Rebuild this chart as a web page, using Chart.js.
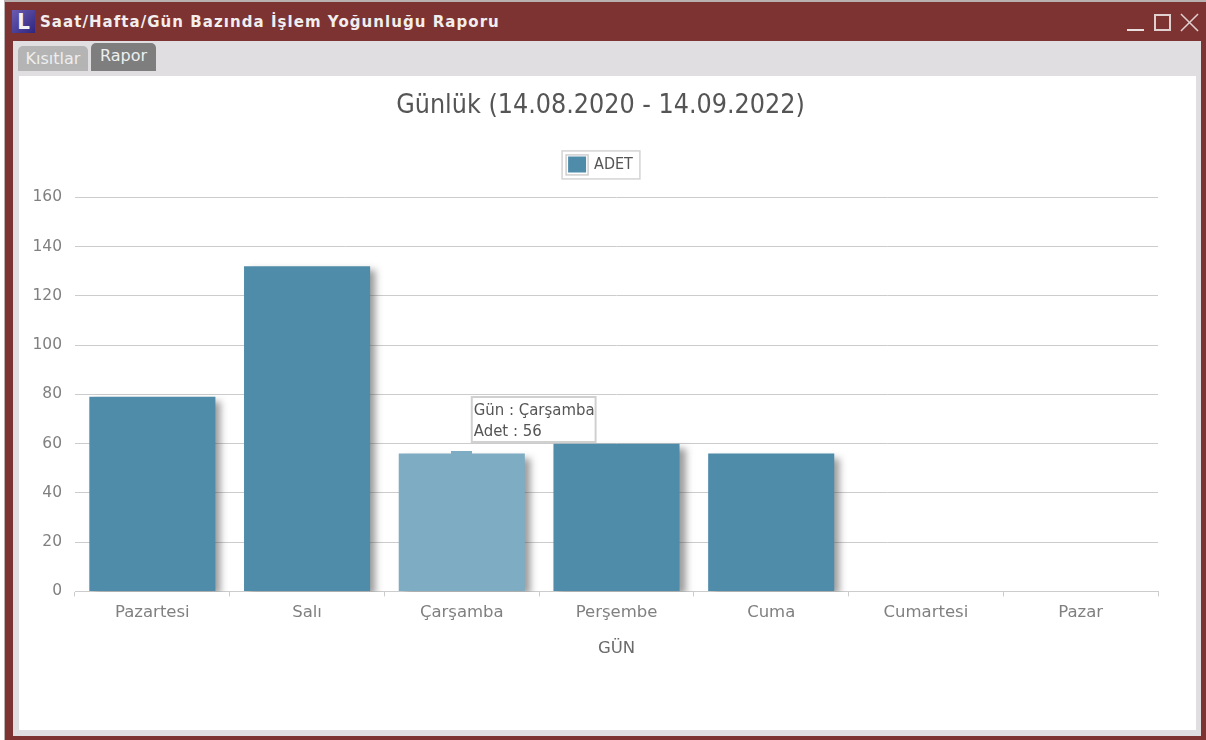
<!DOCTYPE html>
<html lang="tr"><head><meta charset="utf-8">
<script src="https://cdn.jsdelivr.net/npm/chart.js@4/dist/chart.umd.min.js"></script>
<style>
html,body{margin:0;padding:0;background:#fff;overflow:hidden}
#win{position:absolute;left:5px;top:2px;width:1201px;height:738px;background:#7c3331;box-shadow:0 -1px 0 1px #b9b0b0}
#logo{position:absolute;left:7px;top:8px;width:23px;height:23px;background:linear-gradient(135deg,#6a5cb0,#2f2580);color:#f2f2f2;font:bold 22px/24px "DejaVu Sans Condensed";text-align:center}
#cap{position:absolute;left:35px;top:11px;color:#f3eeee;font:bold 15px/18px "DejaVu Sans";letter-spacing:1.05px;white-space:nowrap}
#min{position:absolute;left:1122px;top:27px;width:17px;height:2px;background:#eadfdf}
#max{position:absolute;left:1149px;top:12px;width:13px;height:13px;border:2px solid #e0d0d0}
#x{position:absolute;left:1175px;top:11px;width:19px;height:19px}
#panel{position:absolute;left:8px;top:39px;width:1188px;height:695px;background:#e0dee1}
#k{position:absolute;left:5px;top:5px;width:70px;height:25px;background:#b4b4b4;color:#eee;font:16px/26px "DejaVu Sans";text-align:center;border-radius:5px 5px 0 0}
#r{position:absolute;left:78px;top:2px;width:65px;height:28px;background:#7e7e7e;color:#eee;font:16px/25px "DejaVu Sans";text-align:center;border-radius:5px 5px 0 0}
#c{position:absolute;left:6px;top:35px;width:1177px;height:654px;background:#fff}
canvas{display:block}
</style></head><body>
<div id="win">
<div id="logo">L</div><div id="cap">Saat/Hafta/Gün Bazında İşlem Yoğunluğu Raporu</div>
<div id="min"></div><div id="max"></div>
<svg id="x" viewBox="0 0 20 20"><path d="M1 1L19 19M19 1L1 19" stroke="#e0d0d0" stroke-width="1.6"/></svg>
<div id="panel"><div id="k">Kısıtlar</div><div id="r">Rapor</div>
<div id="c"><canvas id="chart" width="1177" height="654"></canvas></div></div>
</div>
<script>
const categories=["Pazartesi","Salı","Çarşamba","Perşembe","Cuma","Cumartesi","Pazar"];
const adet=[79,132,56,60,56,0,0];
const yTicks=[0,20,40,60,80,100,120,140,160];
const seriesName="ADET";
const axisTitle="GÜN";
const chartTitle="Günlük (14.08.2020 - 14.09.2022)";
const activeIndex=2;
const BASE="#4f8ca9",LIGHT="#7eacc3";

Chart.defaults.animation=false;
Chart.Tooltip.positioners.side=function(items){
  if(!items.length) return false;
  return {x:items[0].element.x+10,y:items[0].element.y-34,xAlign:'left',yAlign:'center'};
};
const decor={id:'decor',
  afterLayout(ch){
    const l=ch.legend,t=ch.titleBlock,dx=12,dy=15;
    t.left+=dx;t.right+=dx;
    l.left+=dx;l.right+=dx;l.top-=dy;l.bottom-=dy;
    l.legendHitBoxes.forEach(b=>{b.left+=dx;});
  },
  beforeDatasetDraw(ch){const c=ch.ctx;c.save();c.shadowColor='rgba(60,60,60,.5)';c.shadowOffsetX=6;c.shadowOffsetY=4;c.shadowBlur=7;},
  afterDatasetDraw(ch){ch.ctx.restore();},
  afterDraw(ch){
    const l=ch.legend,c=ch.ctx,b=l.legendHitBoxes[0];
    const bw=l.options.labels.boxWidth,bh=l.options.labels.boxHeight;
    const el=ch.getDatasetMeta(0).data[activeIndex];
    c.save();
    c.fillStyle=LIGHT;c.fillRect(Math.round(el.x-10.5),Math.round(el.y)-3,21,3);
    c.strokeStyle='#d4d4d4';c.lineWidth=1.5;
    c.strokeRect(b.left-6,b.top-5.5,b.width+13,b.height+12);
    c.strokeStyle='#cfcfcf';
    c.strokeRect(b.left-2,b.top-1.5,bw+4,bh+4);
    c.restore();
  }
};
const ch=new Chart(document.getElementById('chart'),{
  type:'bar',
  data:{labels:categories,datasets:[{label:seriesName,data:adet,
    backgroundColor:categories.map((_,i)=>i===activeIndex?LIGHT:BASE),
    hoverBackgroundColor:categories.map((_,i)=>i===activeIndex?LIGHT:BASE),
    borderWidth:0,barPercentage:0.815,categoryPercentage:1}]},
  plugins:[decor],
  options:{responsive:false,maintainAspectRatio:false,
    layout:{padding:{left:0,right:38,top:12,bottom:71}},
    events:[],
    plugins:{
      title:{display:true,text:chartTitle,color:'#555',font:{family:'"DejaVu Sans Condensed","DejaVu Sans"',size:26.6,weight:'normal'},padding:{top:2,bottom:41.5}},
      legend:{display:true,position:'top',labels:{boxWidth:18,boxHeight:16,color:'#555',padding:8,font:{family:'"DejaVu Sans Condensed","DejaVu Sans"',size:16}}},
      tooltip:{enabled:true,position:'side',caretSize:0,caretPadding:0,cornerRadius:0,displayColors:false,
        backgroundColor:'#fff',borderColor:'#d0d0d0',borderWidth:2,
        titleColor:'#555',bodyColor:'#555',titleMarginBottom:1,
        titleFont:{family:'"DejaVu Sans Condensed","DejaVu Sans"',size:16.6,weight:'normal'},
        bodyFont:{family:'"DejaVu Sans Condensed","DejaVu Sans"',size:16.6},
        padding:{left:2,right:1,top:4,bottom:0},
        callbacks:{title:i=>'Gün : '+i[0].label,label:i=>'Adet : '+i.formattedValue}}
    },
    scales:{
      x:{offset:true,border:{color:'#ccc'},
        grid:{drawOnChartArea:false,drawTicks:true,tickLength:5,color:'#ccc'},
        ticks:{color:'#808080',padding:6,font:{family:'"DejaVu Sans"',size:16.5},maxRotation:0},
        title:{display:true,text:axisTitle,color:'#6a6a6a',font:{family:'"DejaVu Sans"',size:16.5},padding:{top:11,bottom:0}}},
      y:{min:0,max:160,border:{display:false},
        afterBuildTicks(s){s.ticks=yTicks.map(v=>({value:v}));},
        afterFit(s){s.width=56;},
        grid:{color:'#ccc',drawTicks:false},
        ticks:{color:'#808080',padding:13,font:{family:'"DejaVu Sans"',size:15.5}}}
    }
  }
});
ch.tooltip.setActiveElements([{datasetIndex:0,index:activeIndex}],{x:0,y:0});
ch.update();
</script>
</body></html>
